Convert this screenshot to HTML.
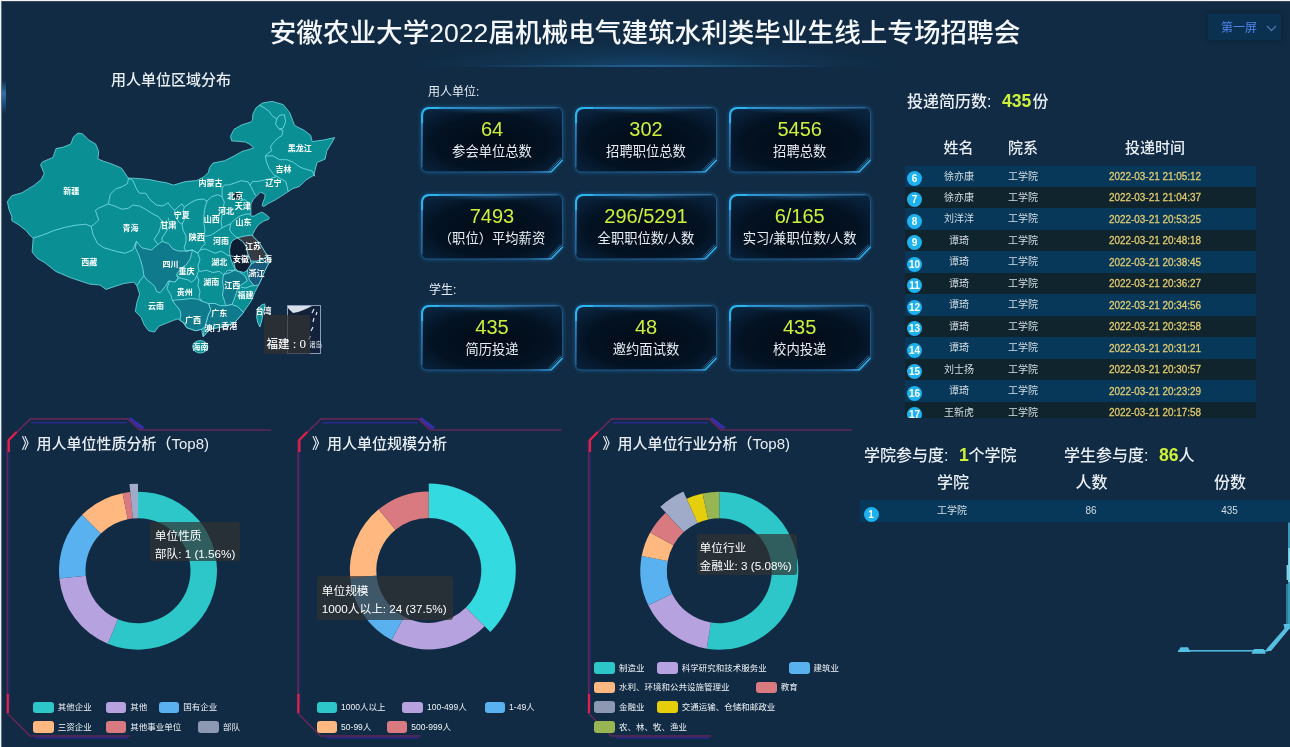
<!DOCTYPE html><html lang="zh-CN"><head><meta charset="utf-8"><title>安徽农业大学2022届机械电气建筑水利类毕业生线上专场招聘会</title><style>
*{margin:0;padding:0;box-sizing:border-box;}
html,body{width:1290px;height:747px;overflow:hidden;background:#102b43;}
body{position:relative;font-family:"Liberation Sans", "Noto Sans CJK SC", sans-serif;color:#fff;}
.a{position:absolute;white-space:nowrap;}
.title{left:0;width:1290px;top:14.5px;text-align:center;font-size:26.6px;font-weight:500;color:#f4f8fc;line-height:36px;letter-spacing:0px;}
.glow{left:400px;top:40px;width:500px;height:27px;background:radial-gradient(ellipse 50% 100% at 50% 100%, rgba(20,90,140,0.55) 0%, rgba(20,80,130,0.25) 50%, rgba(16,43,67,0) 100%);}
.gline{left:440px;top:65px;width:420px;height:1.5px;background:radial-gradient(ellipse 50% 50% at 50% 50%, rgba(90,170,220,0.65) 0%, rgba(60,140,200,0.25) 60%, rgba(16,43,67,0) 100%);}
.sel{left:1208.3px;top:13.8px;width:73.2px;height:26.5px;background:#0b3151;box-shadow:0 0 6px rgba(0,0,0,0.25);}
.sel span{position:absolute;left:12.8px;top:6.6px;font-size:12px;color:#4f84ec;line-height:16px;}
.lbl{font-size:12px;color:#e6edf5;line-height:14px;}
.card{position:absolute;width:142px;height:65.5px;filter:drop-shadow(0 0 2px rgba(40,140,220,0.45));}
.card .n{position:absolute;left:0;width:100%;text-align:center;top:9.5px;font-size:20px;line-height:24px;color:#cdf03c;}
.card .t{position:absolute;left:0;width:100%;text-align:center;top:36.3px;font-size:13.3px;line-height:18px;color:#e8eef4;}
.h16{font-size:16px;line-height:20px;color:#e8eef4;font-weight:500;}
.y{color:#cdf03c;font-weight:bold;}
.th{font-size:15px;line-height:18px;color:#e8eef4;font-weight:500;}
.row{position:absolute;height:21.5px;}
.odd{background:#07385a;}
.even{background:#0f242c;}
.badge{position:absolute;width:15px;height:15px;border-radius:50%;background:#1db1f0;color:#fff;font-size:10px;font-weight:bold;line-height:15px;text-align:center;}
.cell{position:absolute;font-size:10px;line-height:12px;color:#d4dce4;text-align:center;}
.time{color:#e2ca70;font-size:11px;line-height:12px;transform:scaleX(0.9);margin-top:-0.8px;-webkit-text-stroke:0.3px #e2ca70;}
.ptitle{font-size:15px;line-height:18px;color:#e8eef4;font-weight:500;}
.tip{position:absolute;background:rgba(50,50,50,0.7);color:#fff;font-size:11.7px;line-height:17.5px;border-radius:3px;white-space:nowrap;}
.lg{position:absolute;font-size:8.5px;line-height:12px;color:#f0f4f8;white-space:nowrap;}
.sw{position:absolute;width:20.5px;height:11.5px;border-radius:3px;}
</style></head><body><div class="a" style="left:0;top:0;width:1290px;height:1px;background:#f4f6f8;"></div><div class="a" style="left:0;top:1px;width:1290px;height:1px;background:#4a5260;opacity:0.7;"></div><div class="a" style="left:0;top:0;width:1px;height:747px;background:#eef2f6;"></div><div class="a" style="left:1px;top:0;width:1px;height:747px;background:rgba(190,205,220,0.45);"></div><div class="a glow"></div><div class="a gline"></div><div class="a" style="left:1.5px;top:80px;width:4px;height:34px;background:linear-gradient(180deg,rgba(60,120,190,0) 0%,rgba(70,140,210,0.7) 40%,rgba(40,100,170,0.4) 80%,rgba(40,100,170,0) 100%);"></div><div class="a title">安徽农业大学2022届机械电气建筑水利类毕业生线上专场招聘会</div><div class="a sel"><span>第一屏</span><svg style="position:absolute;left:58px;top:10.8px" width="11" height="7" viewBox="0 0 11 7"><polyline points="1,1 5.5,5.5 10,1" fill="none" stroke="#4a74a6" stroke-width="1.3"/></svg></div><div class="a" style="left:111px;top:71px;font-size:15px;line-height:18px;color:#e8eef4;font-weight:500;">用人单位区域分布</div><div class="a lbl" style="left:428px;top:85px;">用人单位:</div><div class="card" style="left:421px;top:107px"><svg width="142" height="65.5" viewBox="0 0 142 65.5" style="position:absolute;left:0;top:0"><defs><radialGradient id="cg1" cx="50%" cy="55%" r="75%"><stop offset="0" stop-color="#020b16"/><stop offset="0.55" stop-color="#031222"/><stop offset="1" stop-color="#0c2a48"/></radialGradient><radialGradient id="tg1" cx="50%" cy="0%" r="60%" fx="50%" fy="0%" gradientTransform="translate(0,0) scale(1,0.5)"><stop offset="0" stop-color="#3f8fc4" stop-opacity="0.55"/><stop offset="0.6" stop-color="#1d5a8a" stop-opacity="0.18"/><stop offset="1" stop-color="#000" stop-opacity="0"/></radialGradient><linearGradient id="ag1" gradientUnits="userSpaceOnUse" x1="0" y1="0" x2="142" y2="0"><stop offset="0" stop-color="#2ba8ec"/><stop offset="0.3" stop-color="#3296d6" stop-opacity="0.85"/><stop offset="0.8" stop-color="#3a7fb4" stop-opacity="0.5"/><stop offset="1" stop-color="#3a7fb4" stop-opacity="0.3"/></linearGradient><linearGradient id="lg21" gradientUnits="userSpaceOnUse" x1="0" y1="62" x2="0" y2="0"><stop offset="0" stop-color="#2a6fa8" stop-opacity="0.5"/><stop offset="0.6" stop-color="#2f8cd0" stop-opacity="0.8"/><stop offset="1" stop-color="#2cb0ee"/></linearGradient><linearGradient id="bg21" gradientUnits="userSpaceOnUse" x1="40" y1="0" x2="130" y2="0"><stop offset="0" stop-color="#1b4f7c" stop-opacity="0.3"/><stop offset="0.75" stop-color="#2a70a8" stop-opacity="0.6"/><stop offset="1" stop-color="#3aa8ec"/></linearGradient></defs><path d="M8,0.5 H135.5 Q141.5,0.5 141.5,6.5 V53.0 L130.0,65.0 H6.5 Q0.5,65.0 0.5,59.0 V8 Q0.5,0.5 8,0.5 Z" fill="url(#cg1)" stroke="#1d5684" stroke-width="1"/><path d="M1.5,8 Q1.5,1.5 8,1.5 H134.5 Q140.5,1.5 140.5,7 V24 H1.5 Z" fill="url(#tg1)"/><path d="M1,60 V9" fill="none" stroke="url(#lg21)" stroke-width="1.8"/><path d="M9,1 H136.5" fill="none" stroke="url(#ag1)" stroke-width="1.8"/><path d="M1,16 V9 Q1,1 9,1 H18" fill="none" stroke="#2cb4ee" stroke-width="2.2"/><path d="M40,64.8 H130.0" fill="none" stroke="url(#bg21)" stroke-width="1.2"/><path d="M141.5,53.0 L130.0,65.0" fill="none" stroke="#34b8f0" stroke-width="1.4"/><path d="M140.5,51.3 L128.2,64.3" fill="none" stroke="#2fa8e6" stroke-width="0.9" opacity="0.8"/><path d="M139.5,50.0 L126.8,63.5" fill="none" stroke="#2a98d8" stroke-width="0.8" opacity="0.5"/></svg><div class="n">64</div><div class="t">参会单位总数</div></div><div class="card" style="left:575px;top:107px"><svg width="142" height="65.5" viewBox="0 0 142 65.5" style="position:absolute;left:0;top:0"><defs><radialGradient id="cg2" cx="50%" cy="55%" r="75%"><stop offset="0" stop-color="#020b16"/><stop offset="0.55" stop-color="#031222"/><stop offset="1" stop-color="#0c2a48"/></radialGradient><radialGradient id="tg2" cx="50%" cy="0%" r="60%" fx="50%" fy="0%" gradientTransform="translate(0,0) scale(1,0.5)"><stop offset="0" stop-color="#3f8fc4" stop-opacity="0.55"/><stop offset="0.6" stop-color="#1d5a8a" stop-opacity="0.18"/><stop offset="1" stop-color="#000" stop-opacity="0"/></radialGradient><linearGradient id="ag2" gradientUnits="userSpaceOnUse" x1="0" y1="0" x2="142" y2="0"><stop offset="0" stop-color="#2ba8ec"/><stop offset="0.3" stop-color="#3296d6" stop-opacity="0.85"/><stop offset="0.8" stop-color="#3a7fb4" stop-opacity="0.5"/><stop offset="1" stop-color="#3a7fb4" stop-opacity="0.3"/></linearGradient><linearGradient id="lg22" gradientUnits="userSpaceOnUse" x1="0" y1="62" x2="0" y2="0"><stop offset="0" stop-color="#2a6fa8" stop-opacity="0.5"/><stop offset="0.6" stop-color="#2f8cd0" stop-opacity="0.8"/><stop offset="1" stop-color="#2cb0ee"/></linearGradient><linearGradient id="bg22" gradientUnits="userSpaceOnUse" x1="40" y1="0" x2="130" y2="0"><stop offset="0" stop-color="#1b4f7c" stop-opacity="0.3"/><stop offset="0.75" stop-color="#2a70a8" stop-opacity="0.6"/><stop offset="1" stop-color="#3aa8ec"/></linearGradient></defs><path d="M8,0.5 H135.5 Q141.5,0.5 141.5,6.5 V53.0 L130.0,65.0 H6.5 Q0.5,65.0 0.5,59.0 V8 Q0.5,0.5 8,0.5 Z" fill="url(#cg2)" stroke="#1d5684" stroke-width="1"/><path d="M1.5,8 Q1.5,1.5 8,1.5 H134.5 Q140.5,1.5 140.5,7 V24 H1.5 Z" fill="url(#tg2)"/><path d="M1,60 V9" fill="none" stroke="url(#lg22)" stroke-width="1.8"/><path d="M9,1 H136.5" fill="none" stroke="url(#ag2)" stroke-width="1.8"/><path d="M1,16 V9 Q1,1 9,1 H18" fill="none" stroke="#2cb4ee" stroke-width="2.2"/><path d="M40,64.8 H130.0" fill="none" stroke="url(#bg22)" stroke-width="1.2"/><path d="M141.5,53.0 L130.0,65.0" fill="none" stroke="#34b8f0" stroke-width="1.4"/><path d="M140.5,51.3 L128.2,64.3" fill="none" stroke="#2fa8e6" stroke-width="0.9" opacity="0.8"/><path d="M139.5,50.0 L126.8,63.5" fill="none" stroke="#2a98d8" stroke-width="0.8" opacity="0.5"/></svg><div class="n">302</div><div class="t">招聘职位总数</div></div><div class="card" style="left:728.7px;top:107px"><svg width="142" height="65.5" viewBox="0 0 142 65.5" style="position:absolute;left:0;top:0"><defs><radialGradient id="cg3" cx="50%" cy="55%" r="75%"><stop offset="0" stop-color="#020b16"/><stop offset="0.55" stop-color="#031222"/><stop offset="1" stop-color="#0c2a48"/></radialGradient><radialGradient id="tg3" cx="50%" cy="0%" r="60%" fx="50%" fy="0%" gradientTransform="translate(0,0) scale(1,0.5)"><stop offset="0" stop-color="#3f8fc4" stop-opacity="0.55"/><stop offset="0.6" stop-color="#1d5a8a" stop-opacity="0.18"/><stop offset="1" stop-color="#000" stop-opacity="0"/></radialGradient><linearGradient id="ag3" gradientUnits="userSpaceOnUse" x1="0" y1="0" x2="142" y2="0"><stop offset="0" stop-color="#2ba8ec"/><stop offset="0.3" stop-color="#3296d6" stop-opacity="0.85"/><stop offset="0.8" stop-color="#3a7fb4" stop-opacity="0.5"/><stop offset="1" stop-color="#3a7fb4" stop-opacity="0.3"/></linearGradient><linearGradient id="lg23" gradientUnits="userSpaceOnUse" x1="0" y1="62" x2="0" y2="0"><stop offset="0" stop-color="#2a6fa8" stop-opacity="0.5"/><stop offset="0.6" stop-color="#2f8cd0" stop-opacity="0.8"/><stop offset="1" stop-color="#2cb0ee"/></linearGradient><linearGradient id="bg23" gradientUnits="userSpaceOnUse" x1="40" y1="0" x2="130" y2="0"><stop offset="0" stop-color="#1b4f7c" stop-opacity="0.3"/><stop offset="0.75" stop-color="#2a70a8" stop-opacity="0.6"/><stop offset="1" stop-color="#3aa8ec"/></linearGradient></defs><path d="M8,0.5 H135.5 Q141.5,0.5 141.5,6.5 V53.0 L130.0,65.0 H6.5 Q0.5,65.0 0.5,59.0 V8 Q0.5,0.5 8,0.5 Z" fill="url(#cg3)" stroke="#1d5684" stroke-width="1"/><path d="M1.5,8 Q1.5,1.5 8,1.5 H134.5 Q140.5,1.5 140.5,7 V24 H1.5 Z" fill="url(#tg3)"/><path d="M1,60 V9" fill="none" stroke="url(#lg23)" stroke-width="1.8"/><path d="M9,1 H136.5" fill="none" stroke="url(#ag3)" stroke-width="1.8"/><path d="M1,16 V9 Q1,1 9,1 H18" fill="none" stroke="#2cb4ee" stroke-width="2.2"/><path d="M40,64.8 H130.0" fill="none" stroke="url(#bg23)" stroke-width="1.2"/><path d="M141.5,53.0 L130.0,65.0" fill="none" stroke="#34b8f0" stroke-width="1.4"/><path d="M140.5,51.3 L128.2,64.3" fill="none" stroke="#2fa8e6" stroke-width="0.9" opacity="0.8"/><path d="M139.5,50.0 L126.8,63.5" fill="none" stroke="#2a98d8" stroke-width="0.8" opacity="0.5"/></svg><div class="n">5456</div><div class="t">招聘总数</div></div><div class="card" style="left:421px;top:194px"><svg width="142" height="65.5" viewBox="0 0 142 65.5" style="position:absolute;left:0;top:0"><defs><radialGradient id="cg4" cx="50%" cy="55%" r="75%"><stop offset="0" stop-color="#020b16"/><stop offset="0.55" stop-color="#031222"/><stop offset="1" stop-color="#0c2a48"/></radialGradient><radialGradient id="tg4" cx="50%" cy="0%" r="60%" fx="50%" fy="0%" gradientTransform="translate(0,0) scale(1,0.5)"><stop offset="0" stop-color="#3f8fc4" stop-opacity="0.55"/><stop offset="0.6" stop-color="#1d5a8a" stop-opacity="0.18"/><stop offset="1" stop-color="#000" stop-opacity="0"/></radialGradient><linearGradient id="ag4" gradientUnits="userSpaceOnUse" x1="0" y1="0" x2="142" y2="0"><stop offset="0" stop-color="#2ba8ec"/><stop offset="0.3" stop-color="#3296d6" stop-opacity="0.85"/><stop offset="0.8" stop-color="#3a7fb4" stop-opacity="0.5"/><stop offset="1" stop-color="#3a7fb4" stop-opacity="0.3"/></linearGradient><linearGradient id="lg24" gradientUnits="userSpaceOnUse" x1="0" y1="62" x2="0" y2="0"><stop offset="0" stop-color="#2a6fa8" stop-opacity="0.5"/><stop offset="0.6" stop-color="#2f8cd0" stop-opacity="0.8"/><stop offset="1" stop-color="#2cb0ee"/></linearGradient><linearGradient id="bg24" gradientUnits="userSpaceOnUse" x1="40" y1="0" x2="130" y2="0"><stop offset="0" stop-color="#1b4f7c" stop-opacity="0.3"/><stop offset="0.75" stop-color="#2a70a8" stop-opacity="0.6"/><stop offset="1" stop-color="#3aa8ec"/></linearGradient></defs><path d="M8,0.5 H135.5 Q141.5,0.5 141.5,6.5 V53.0 L130.0,65.0 H6.5 Q0.5,65.0 0.5,59.0 V8 Q0.5,0.5 8,0.5 Z" fill="url(#cg4)" stroke="#1d5684" stroke-width="1"/><path d="M1.5,8 Q1.5,1.5 8,1.5 H134.5 Q140.5,1.5 140.5,7 V24 H1.5 Z" fill="url(#tg4)"/><path d="M1,60 V9" fill="none" stroke="url(#lg24)" stroke-width="1.8"/><path d="M9,1 H136.5" fill="none" stroke="url(#ag4)" stroke-width="1.8"/><path d="M1,16 V9 Q1,1 9,1 H18" fill="none" stroke="#2cb4ee" stroke-width="2.2"/><path d="M40,64.8 H130.0" fill="none" stroke="url(#bg24)" stroke-width="1.2"/><path d="M141.5,53.0 L130.0,65.0" fill="none" stroke="#34b8f0" stroke-width="1.4"/><path d="M140.5,51.3 L128.2,64.3" fill="none" stroke="#2fa8e6" stroke-width="0.9" opacity="0.8"/><path d="M139.5,50.0 L126.8,63.5" fill="none" stroke="#2a98d8" stroke-width="0.8" opacity="0.5"/></svg><div class="n">7493</div><div class="t">（职位）平均薪资</div></div><div class="card" style="left:575px;top:194px"><svg width="142" height="65.5" viewBox="0 0 142 65.5" style="position:absolute;left:0;top:0"><defs><radialGradient id="cg5" cx="50%" cy="55%" r="75%"><stop offset="0" stop-color="#020b16"/><stop offset="0.55" stop-color="#031222"/><stop offset="1" stop-color="#0c2a48"/></radialGradient><radialGradient id="tg5" cx="50%" cy="0%" r="60%" fx="50%" fy="0%" gradientTransform="translate(0,0) scale(1,0.5)"><stop offset="0" stop-color="#3f8fc4" stop-opacity="0.55"/><stop offset="0.6" stop-color="#1d5a8a" stop-opacity="0.18"/><stop offset="1" stop-color="#000" stop-opacity="0"/></radialGradient><linearGradient id="ag5" gradientUnits="userSpaceOnUse" x1="0" y1="0" x2="142" y2="0"><stop offset="0" stop-color="#2ba8ec"/><stop offset="0.3" stop-color="#3296d6" stop-opacity="0.85"/><stop offset="0.8" stop-color="#3a7fb4" stop-opacity="0.5"/><stop offset="1" stop-color="#3a7fb4" stop-opacity="0.3"/></linearGradient><linearGradient id="lg25" gradientUnits="userSpaceOnUse" x1="0" y1="62" x2="0" y2="0"><stop offset="0" stop-color="#2a6fa8" stop-opacity="0.5"/><stop offset="0.6" stop-color="#2f8cd0" stop-opacity="0.8"/><stop offset="1" stop-color="#2cb0ee"/></linearGradient><linearGradient id="bg25" gradientUnits="userSpaceOnUse" x1="40" y1="0" x2="130" y2="0"><stop offset="0" stop-color="#1b4f7c" stop-opacity="0.3"/><stop offset="0.75" stop-color="#2a70a8" stop-opacity="0.6"/><stop offset="1" stop-color="#3aa8ec"/></linearGradient></defs><path d="M8,0.5 H135.5 Q141.5,0.5 141.5,6.5 V53.0 L130.0,65.0 H6.5 Q0.5,65.0 0.5,59.0 V8 Q0.5,0.5 8,0.5 Z" fill="url(#cg5)" stroke="#1d5684" stroke-width="1"/><path d="M1.5,8 Q1.5,1.5 8,1.5 H134.5 Q140.5,1.5 140.5,7 V24 H1.5 Z" fill="url(#tg5)"/><path d="M1,60 V9" fill="none" stroke="url(#lg25)" stroke-width="1.8"/><path d="M9,1 H136.5" fill="none" stroke="url(#ag5)" stroke-width="1.8"/><path d="M1,16 V9 Q1,1 9,1 H18" fill="none" stroke="#2cb4ee" stroke-width="2.2"/><path d="M40,64.8 H130.0" fill="none" stroke="url(#bg25)" stroke-width="1.2"/><path d="M141.5,53.0 L130.0,65.0" fill="none" stroke="#34b8f0" stroke-width="1.4"/><path d="M140.5,51.3 L128.2,64.3" fill="none" stroke="#2fa8e6" stroke-width="0.9" opacity="0.8"/><path d="M139.5,50.0 L126.8,63.5" fill="none" stroke="#2a98d8" stroke-width="0.8" opacity="0.5"/></svg><div class="n">296/5291</div><div class="t">全职职位数/人数</div></div><div class="card" style="left:728.7px;top:194px"><svg width="142" height="65.5" viewBox="0 0 142 65.5" style="position:absolute;left:0;top:0"><defs><radialGradient id="cg6" cx="50%" cy="55%" r="75%"><stop offset="0" stop-color="#020b16"/><stop offset="0.55" stop-color="#031222"/><stop offset="1" stop-color="#0c2a48"/></radialGradient><radialGradient id="tg6" cx="50%" cy="0%" r="60%" fx="50%" fy="0%" gradientTransform="translate(0,0) scale(1,0.5)"><stop offset="0" stop-color="#3f8fc4" stop-opacity="0.55"/><stop offset="0.6" stop-color="#1d5a8a" stop-opacity="0.18"/><stop offset="1" stop-color="#000" stop-opacity="0"/></radialGradient><linearGradient id="ag6" gradientUnits="userSpaceOnUse" x1="0" y1="0" x2="142" y2="0"><stop offset="0" stop-color="#2ba8ec"/><stop offset="0.3" stop-color="#3296d6" stop-opacity="0.85"/><stop offset="0.8" stop-color="#3a7fb4" stop-opacity="0.5"/><stop offset="1" stop-color="#3a7fb4" stop-opacity="0.3"/></linearGradient><linearGradient id="lg26" gradientUnits="userSpaceOnUse" x1="0" y1="62" x2="0" y2="0"><stop offset="0" stop-color="#2a6fa8" stop-opacity="0.5"/><stop offset="0.6" stop-color="#2f8cd0" stop-opacity="0.8"/><stop offset="1" stop-color="#2cb0ee"/></linearGradient><linearGradient id="bg26" gradientUnits="userSpaceOnUse" x1="40" y1="0" x2="130" y2="0"><stop offset="0" stop-color="#1b4f7c" stop-opacity="0.3"/><stop offset="0.75" stop-color="#2a70a8" stop-opacity="0.6"/><stop offset="1" stop-color="#3aa8ec"/></linearGradient></defs><path d="M8,0.5 H135.5 Q141.5,0.5 141.5,6.5 V53.0 L130.0,65.0 H6.5 Q0.5,65.0 0.5,59.0 V8 Q0.5,0.5 8,0.5 Z" fill="url(#cg6)" stroke="#1d5684" stroke-width="1"/><path d="M1.5,8 Q1.5,1.5 8,1.5 H134.5 Q140.5,1.5 140.5,7 V24 H1.5 Z" fill="url(#tg6)"/><path d="M1,60 V9" fill="none" stroke="url(#lg26)" stroke-width="1.8"/><path d="M9,1 H136.5" fill="none" stroke="url(#ag6)" stroke-width="1.8"/><path d="M1,16 V9 Q1,1 9,1 H18" fill="none" stroke="#2cb4ee" stroke-width="2.2"/><path d="M40,64.8 H130.0" fill="none" stroke="url(#bg26)" stroke-width="1.2"/><path d="M141.5,53.0 L130.0,65.0" fill="none" stroke="#34b8f0" stroke-width="1.4"/><path d="M140.5,51.3 L128.2,64.3" fill="none" stroke="#2fa8e6" stroke-width="0.9" opacity="0.8"/><path d="M139.5,50.0 L126.8,63.5" fill="none" stroke="#2a98d8" stroke-width="0.8" opacity="0.5"/></svg><div class="n">6/165</div><div class="t">实习/兼职位数/人数</div></div><div class="a lbl" style="left:429px;top:283px;">学生:</div><div class="card" style="left:421px;top:305px"><svg width="142" height="65.5" viewBox="0 0 142 65.5" style="position:absolute;left:0;top:0"><defs><radialGradient id="cg7" cx="50%" cy="55%" r="75%"><stop offset="0" stop-color="#020b16"/><stop offset="0.55" stop-color="#031222"/><stop offset="1" stop-color="#0c2a48"/></radialGradient><radialGradient id="tg7" cx="50%" cy="0%" r="60%" fx="50%" fy="0%" gradientTransform="translate(0,0) scale(1,0.5)"><stop offset="0" stop-color="#3f8fc4" stop-opacity="0.55"/><stop offset="0.6" stop-color="#1d5a8a" stop-opacity="0.18"/><stop offset="1" stop-color="#000" stop-opacity="0"/></radialGradient><linearGradient id="ag7" gradientUnits="userSpaceOnUse" x1="0" y1="0" x2="142" y2="0"><stop offset="0" stop-color="#2ba8ec"/><stop offset="0.3" stop-color="#3296d6" stop-opacity="0.85"/><stop offset="0.8" stop-color="#3a7fb4" stop-opacity="0.5"/><stop offset="1" stop-color="#3a7fb4" stop-opacity="0.3"/></linearGradient><linearGradient id="lg27" gradientUnits="userSpaceOnUse" x1="0" y1="62" x2="0" y2="0"><stop offset="0" stop-color="#2a6fa8" stop-opacity="0.5"/><stop offset="0.6" stop-color="#2f8cd0" stop-opacity="0.8"/><stop offset="1" stop-color="#2cb0ee"/></linearGradient><linearGradient id="bg27" gradientUnits="userSpaceOnUse" x1="40" y1="0" x2="130" y2="0"><stop offset="0" stop-color="#1b4f7c" stop-opacity="0.3"/><stop offset="0.75" stop-color="#2a70a8" stop-opacity="0.6"/><stop offset="1" stop-color="#3aa8ec"/></linearGradient></defs><path d="M8,0.5 H135.5 Q141.5,0.5 141.5,6.5 V53.0 L130.0,65.0 H6.5 Q0.5,65.0 0.5,59.0 V8 Q0.5,0.5 8,0.5 Z" fill="url(#cg7)" stroke="#1d5684" stroke-width="1"/><path d="M1.5,8 Q1.5,1.5 8,1.5 H134.5 Q140.5,1.5 140.5,7 V24 H1.5 Z" fill="url(#tg7)"/><path d="M1,60 V9" fill="none" stroke="url(#lg27)" stroke-width="1.8"/><path d="M9,1 H136.5" fill="none" stroke="url(#ag7)" stroke-width="1.8"/><path d="M1,16 V9 Q1,1 9,1 H18" fill="none" stroke="#2cb4ee" stroke-width="2.2"/><path d="M40,64.8 H130.0" fill="none" stroke="url(#bg27)" stroke-width="1.2"/><path d="M141.5,53.0 L130.0,65.0" fill="none" stroke="#34b8f0" stroke-width="1.4"/><path d="M140.5,51.3 L128.2,64.3" fill="none" stroke="#2fa8e6" stroke-width="0.9" opacity="0.8"/><path d="M139.5,50.0 L126.8,63.5" fill="none" stroke="#2a98d8" stroke-width="0.8" opacity="0.5"/></svg><div class="n">435</div><div class="t">简历投递</div></div><div class="card" style="left:575px;top:305px"><svg width="142" height="65.5" viewBox="0 0 142 65.5" style="position:absolute;left:0;top:0"><defs><radialGradient id="cg8" cx="50%" cy="55%" r="75%"><stop offset="0" stop-color="#020b16"/><stop offset="0.55" stop-color="#031222"/><stop offset="1" stop-color="#0c2a48"/></radialGradient><radialGradient id="tg8" cx="50%" cy="0%" r="60%" fx="50%" fy="0%" gradientTransform="translate(0,0) scale(1,0.5)"><stop offset="0" stop-color="#3f8fc4" stop-opacity="0.55"/><stop offset="0.6" stop-color="#1d5a8a" stop-opacity="0.18"/><stop offset="1" stop-color="#000" stop-opacity="0"/></radialGradient><linearGradient id="ag8" gradientUnits="userSpaceOnUse" x1="0" y1="0" x2="142" y2="0"><stop offset="0" stop-color="#2ba8ec"/><stop offset="0.3" stop-color="#3296d6" stop-opacity="0.85"/><stop offset="0.8" stop-color="#3a7fb4" stop-opacity="0.5"/><stop offset="1" stop-color="#3a7fb4" stop-opacity="0.3"/></linearGradient><linearGradient id="lg28" gradientUnits="userSpaceOnUse" x1="0" y1="62" x2="0" y2="0"><stop offset="0" stop-color="#2a6fa8" stop-opacity="0.5"/><stop offset="0.6" stop-color="#2f8cd0" stop-opacity="0.8"/><stop offset="1" stop-color="#2cb0ee"/></linearGradient><linearGradient id="bg28" gradientUnits="userSpaceOnUse" x1="40" y1="0" x2="130" y2="0"><stop offset="0" stop-color="#1b4f7c" stop-opacity="0.3"/><stop offset="0.75" stop-color="#2a70a8" stop-opacity="0.6"/><stop offset="1" stop-color="#3aa8ec"/></linearGradient></defs><path d="M8,0.5 H135.5 Q141.5,0.5 141.5,6.5 V53.0 L130.0,65.0 H6.5 Q0.5,65.0 0.5,59.0 V8 Q0.5,0.5 8,0.5 Z" fill="url(#cg8)" stroke="#1d5684" stroke-width="1"/><path d="M1.5,8 Q1.5,1.5 8,1.5 H134.5 Q140.5,1.5 140.5,7 V24 H1.5 Z" fill="url(#tg8)"/><path d="M1,60 V9" fill="none" stroke="url(#lg28)" stroke-width="1.8"/><path d="M9,1 H136.5" fill="none" stroke="url(#ag8)" stroke-width="1.8"/><path d="M1,16 V9 Q1,1 9,1 H18" fill="none" stroke="#2cb4ee" stroke-width="2.2"/><path d="M40,64.8 H130.0" fill="none" stroke="url(#bg28)" stroke-width="1.2"/><path d="M141.5,53.0 L130.0,65.0" fill="none" stroke="#34b8f0" stroke-width="1.4"/><path d="M140.5,51.3 L128.2,64.3" fill="none" stroke="#2fa8e6" stroke-width="0.9" opacity="0.8"/><path d="M139.5,50.0 L126.8,63.5" fill="none" stroke="#2a98d8" stroke-width="0.8" opacity="0.5"/></svg><div class="n">48</div><div class="t">邀约面试数</div></div><div class="card" style="left:728.7px;top:305px"><svg width="142" height="65.5" viewBox="0 0 142 65.5" style="position:absolute;left:0;top:0"><defs><radialGradient id="cg9" cx="50%" cy="55%" r="75%"><stop offset="0" stop-color="#020b16"/><stop offset="0.55" stop-color="#031222"/><stop offset="1" stop-color="#0c2a48"/></radialGradient><radialGradient id="tg9" cx="50%" cy="0%" r="60%" fx="50%" fy="0%" gradientTransform="translate(0,0) scale(1,0.5)"><stop offset="0" stop-color="#3f8fc4" stop-opacity="0.55"/><stop offset="0.6" stop-color="#1d5a8a" stop-opacity="0.18"/><stop offset="1" stop-color="#000" stop-opacity="0"/></radialGradient><linearGradient id="ag9" gradientUnits="userSpaceOnUse" x1="0" y1="0" x2="142" y2="0"><stop offset="0" stop-color="#2ba8ec"/><stop offset="0.3" stop-color="#3296d6" stop-opacity="0.85"/><stop offset="0.8" stop-color="#3a7fb4" stop-opacity="0.5"/><stop offset="1" stop-color="#3a7fb4" stop-opacity="0.3"/></linearGradient><linearGradient id="lg29" gradientUnits="userSpaceOnUse" x1="0" y1="62" x2="0" y2="0"><stop offset="0" stop-color="#2a6fa8" stop-opacity="0.5"/><stop offset="0.6" stop-color="#2f8cd0" stop-opacity="0.8"/><stop offset="1" stop-color="#2cb0ee"/></linearGradient><linearGradient id="bg29" gradientUnits="userSpaceOnUse" x1="40" y1="0" x2="130" y2="0"><stop offset="0" stop-color="#1b4f7c" stop-opacity="0.3"/><stop offset="0.75" stop-color="#2a70a8" stop-opacity="0.6"/><stop offset="1" stop-color="#3aa8ec"/></linearGradient></defs><path d="M8,0.5 H135.5 Q141.5,0.5 141.5,6.5 V53.0 L130.0,65.0 H6.5 Q0.5,65.0 0.5,59.0 V8 Q0.5,0.5 8,0.5 Z" fill="url(#cg9)" stroke="#1d5684" stroke-width="1"/><path d="M1.5,8 Q1.5,1.5 8,1.5 H134.5 Q140.5,1.5 140.5,7 V24 H1.5 Z" fill="url(#tg9)"/><path d="M1,60 V9" fill="none" stroke="url(#lg29)" stroke-width="1.8"/><path d="M9,1 H136.5" fill="none" stroke="url(#ag9)" stroke-width="1.8"/><path d="M1,16 V9 Q1,1 9,1 H18" fill="none" stroke="#2cb4ee" stroke-width="2.2"/><path d="M40,64.8 H130.0" fill="none" stroke="url(#bg29)" stroke-width="1.2"/><path d="M141.5,53.0 L130.0,65.0" fill="none" stroke="#34b8f0" stroke-width="1.4"/><path d="M140.5,51.3 L128.2,64.3" fill="none" stroke="#2fa8e6" stroke-width="0.9" opacity="0.8"/><path d="M139.5,50.0 L126.8,63.5" fill="none" stroke="#2a98d8" stroke-width="0.8" opacity="0.5"/></svg><div class="n">435</div><div class="t">校内投递</div></div><div class="a h16" style="left:907px;top:92px;">投递简历数:</div><div class="a y" style="left:1002px;top:91px;font-size:17.6px;line-height:20px;">435</div><div class="a h16" style="left:1032.5px;top:92px;">份</div><div class="a th" style="left:943.5px;top:138.5px;">姓名</div><div class="a th" style="left:1008px;top:138.5px;">院系</div><div class="a th" style="left:1125px;top:138.5px;">投递时间</div><div class="a" style="left:905px;top:165.5px;width:351px;height:252.7px;overflow:hidden;"><div class="row odd" style="left:0;top:0.00px;width:351px;"></div><div class="badge" style="left:2px;top:5.50px;">6</div><div class="cell" style="left:24px;width:60px;top:5.00px;">徐亦康</div><div class="cell" style="left:88px;width:60px;top:5.00px;">工学院</div><div class="cell time" style="left:190px;width:120px;top:5.00px;">2022-03-21 21:05:12</div><div class="row even" style="left:0;top:21.48px;width:351px;"></div><div class="badge" style="left:2px;top:26.98px;">7</div><div class="cell" style="left:24px;width:60px;top:26.48px;">徐亦康</div><div class="cell" style="left:88px;width:60px;top:26.48px;">工学院</div><div class="cell time" style="left:190px;width:120px;top:26.48px;">2022-03-21 21:04:37</div><div class="row odd" style="left:0;top:42.96px;width:351px;"></div><div class="badge" style="left:2px;top:48.46px;">8</div><div class="cell" style="left:24px;width:60px;top:47.96px;">刘洋洋</div><div class="cell" style="left:88px;width:60px;top:47.96px;">工学院</div><div class="cell time" style="left:190px;width:120px;top:47.96px;">2022-03-21 20:53:25</div><div class="row even" style="left:0;top:64.44px;width:351px;"></div><div class="badge" style="left:2px;top:69.94px;">9</div><div class="cell" style="left:24px;width:60px;top:69.44px;">谭琦</div><div class="cell" style="left:88px;width:60px;top:69.44px;">工学院</div><div class="cell time" style="left:190px;width:120px;top:69.44px;">2022-03-21 20:48:18</div><div class="row odd" style="left:0;top:85.92px;width:351px;"></div><div class="badge" style="left:2px;top:91.42px;">10</div><div class="cell" style="left:24px;width:60px;top:90.92px;">谭琦</div><div class="cell" style="left:88px;width:60px;top:90.92px;">工学院</div><div class="cell time" style="left:190px;width:120px;top:90.92px;">2022-03-21 20:38:45</div><div class="row even" style="left:0;top:107.40px;width:351px;"></div><div class="badge" style="left:2px;top:112.90px;">11</div><div class="cell" style="left:24px;width:60px;top:112.40px;">谭琦</div><div class="cell" style="left:88px;width:60px;top:112.40px;">工学院</div><div class="cell time" style="left:190px;width:120px;top:112.40px;">2022-03-21 20:36:27</div><div class="row odd" style="left:0;top:128.88px;width:351px;"></div><div class="badge" style="left:2px;top:134.38px;">12</div><div class="cell" style="left:24px;width:60px;top:133.88px;">谭琦</div><div class="cell" style="left:88px;width:60px;top:133.88px;">工学院</div><div class="cell time" style="left:190px;width:120px;top:133.88px;">2022-03-21 20:34:56</div><div class="row even" style="left:0;top:150.36px;width:351px;"></div><div class="badge" style="left:2px;top:155.86px;">13</div><div class="cell" style="left:24px;width:60px;top:155.36px;">谭琦</div><div class="cell" style="left:88px;width:60px;top:155.36px;">工学院</div><div class="cell time" style="left:190px;width:120px;top:155.36px;">2022-03-21 20:32:58</div><div class="row odd" style="left:0;top:171.84px;width:351px;"></div><div class="badge" style="left:2px;top:177.34px;">14</div><div class="cell" style="left:24px;width:60px;top:176.84px;">谭琦</div><div class="cell" style="left:88px;width:60px;top:176.84px;">工学院</div><div class="cell time" style="left:190px;width:120px;top:176.84px;">2022-03-21 20:31:21</div><div class="row even" style="left:0;top:193.32px;width:351px;"></div><div class="badge" style="left:2px;top:198.82px;">15</div><div class="cell" style="left:24px;width:60px;top:198.32px;">刘士扬</div><div class="cell" style="left:88px;width:60px;top:198.32px;">工学院</div><div class="cell time" style="left:190px;width:120px;top:198.32px;">2022-03-21 20:30:57</div><div class="row odd" style="left:0;top:214.80px;width:351px;"></div><div class="badge" style="left:2px;top:220.30px;">16</div><div class="cell" style="left:24px;width:60px;top:219.80px;">谭琦</div><div class="cell" style="left:88px;width:60px;top:219.80px;">工学院</div><div class="cell time" style="left:190px;width:120px;top:219.80px;">2022-03-21 20:23:29</div><div class="row even" style="left:0;top:236.28px;width:351px;"></div><div class="badge" style="left:2px;top:241.78px;">17</div><div class="cell" style="left:24px;width:60px;top:241.28px;">王新虎</div><div class="cell" style="left:88px;width:60px;top:241.28px;">工学院</div><div class="cell time" style="left:190px;width:120px;top:241.28px;">2022-03-21 20:17:58</div></div><div class="a h16" style="left:864px;top:446px;">学院参与度:</div><div class="a y" style="left:959px;top:445px;font-size:17.6px;line-height:20px;">1</div><div class="a h16" style="left:968.5px;top:446px;">个学院</div><div class="a h16" style="left:1064px;top:446px;">学生参与度:</div><div class="a y" style="left:1159px;top:445px;font-size:17.6px;line-height:20px;">86</div><div class="a h16" style="left:1178.5px;top:446px;">人</div><div class="a th" style="left:937px;top:474px;font-size:16px;">学院</div><div class="a th" style="left:1075.5px;top:474px;font-size:16px;">人数</div><div class="a th" style="left:1214px;top:474px;font-size:16px;">份数</div><div class="a odd" style="left:860px;top:500px;width:430px;height:21.5px;"></div><div class="badge" style="left:863.5px;top:506.5px;">1</div><div class="cell" style="left:922px;width:60px;top:505px;">工学院</div><div class="cell" style="left:1061px;width:60px;top:505px;">86</div><div class="cell" style="left:1199.5px;width:60px;top:505px;">435</div><svg class="a" style="left:1170px;top:515px" width="120" height="145" viewBox="1170 515 120 145"><rect x="1288" y="522.5" width="2" height="106" fill="#3a98bc"/><rect x="1288.3" y="548" width="1.7" height="34" fill="#86dcf0"/><rect x="1286.6" y="565" width="1.8" height="15" fill="#7fd6ec"/><rect x="1286" y="584" width="2" height="40" fill="#3a9cc0" opacity="0.7"/><path d="M1283.5,624 L1290,624 L1290,628 L1271,651 L1266.5,651 L1266.5,649 L1284.5,628.5 Z" fill="#56c0e2"/><rect x="1178" y="650" width="90" height="1.6" fill="#4fb6dc"/><path d="M1178,652 L1180.5,647.3 L1188,647.3 L1190.5,652 Z" fill="#56c0e2"/><path d="M1251.5,653.8 L1254,649 L1263.5,649 L1266,653.8 Z" fill="#56c0e2"/></svg><svg class="a" style="left:0;top:0" width="1290" height="747" viewBox="0 0 1290 747"><path d="M138.00,491.70 A79,79 0 1 1 107.77,643.69 L117.91,619.20 A52.5,52.5 0 1 0 138.00,518.20 Z" fill="#2ec7c9"/><path d="M107.77,643.69 A79,79 0 0 1 59.38,578.44 L85.75,575.85 A52.5,52.5 0 0 0 117.91,619.20 Z" fill="#b6a2de"/><path d="M59.38,578.44 A79,79 0 0 1 82.14,514.84 L100.88,533.58 A52.5,52.5 0 0 0 85.75,575.85 Z" fill="#5ab1ef"/><path d="M82.14,514.84 A79,79 0 0 1 122.59,493.22 L127.76,519.21 A52.5,52.5 0 0 0 100.88,533.58 Z" fill="#ffb980"/><path d="M122.59,493.22 A79,79 0 0 1 130.26,492.08 L132.85,518.45 A52.5,52.5 0 0 0 127.76,519.21 Z" fill="#d87a80"/><path d="M129.47,484.12 A87,87 0 0 1 138.00,483.70 L138.00,518.20 A52.5,52.5 0 0 0 132.85,518.45 Z" fill="#9fabc8"/><path d="M428.80,483.40 A87,87 0 0 1 490.32,631.92 L465.92,607.52 A52.5,52.5 0 0 0 428.80,517.90 Z" fill="#33dae0"/><path d="M484.66,626.26 A79,79 0 0 1 391.56,640.07 L404.05,616.70 A52.5,52.5 0 0 0 465.92,607.52 Z" fill="#b6a2de"/><path d="M391.56,640.07 A79,79 0 0 1 350.18,578.14 L376.55,575.55 A52.5,52.5 0 0 0 404.05,616.70 Z" fill="#5ab1ef"/><path d="M350.18,578.14 A79,79 0 0 1 378.68,509.33 L395.49,529.82 A52.5,52.5 0 0 0 376.55,575.55 Z" fill="#ffb980"/><path d="M378.68,509.33 A79,79 0 0 1 428.80,491.40 L428.80,517.90 A52.5,52.5 0 0 0 395.49,529.82 Z" fill="#d87a80"/><path d="M719.30,491.70 A79,79 0 1 1 706.73,648.69 L710.95,622.53 A52.5,52.5 0 1 0 719.30,518.20 Z" fill="#2ec7c9"/><path d="M706.73,648.69 A79,79 0 0 1 648.25,605.25 L672.09,593.66 A52.5,52.5 0 0 0 710.95,622.53 Z" fill="#b6a2de"/><path d="M648.25,605.25 A79,79 0 0 1 641.67,556.06 L667.71,560.97 A52.5,52.5 0 0 0 672.09,593.66 Z" fill="#5ab1ef"/><path d="M641.67,556.06 A79,79 0 0 1 650.19,532.42 L673.37,545.26 A52.5,52.5 0 0 0 667.71,560.97 Z" fill="#ffb980"/><path d="M650.19,532.42 A79,79 0 0 1 665.71,512.65 L683.69,532.12 A52.5,52.5 0 0 0 673.37,545.26 Z" fill="#d87a80"/><path d="M660.29,506.77 A87,87 0 0 1 683.35,491.47 L697.61,522.89 A52.5,52.5 0 0 0 683.69,532.12 Z" fill="#9fabc8"/><path d="M686.66,498.76 A79,79 0 0 1 702.60,493.49 L708.20,519.39 A52.5,52.5 0 0 0 697.61,522.89 Z" fill="#e5cf0d"/><path d="M702.60,493.49 A79,79 0 0 1 719.30,491.70 L719.30,518.20 A52.5,52.5 0 0 0 708.20,519.39 Z" fill="#97b552"/><g transform="translate(0.0,0)" fill="none"><polyline points="129.5,418.5 143,428.5" stroke="#3a2fb4" stroke-width="3.6" opacity="0.9"/><polyline points="130,736 30,736 7.5,713.5 7.5,441 30.5,418.8 128,418.8 139.5,430 271,430" stroke="#62275a" stroke-width="1.7"/><polyline points="127,422.7 31.5,422.7" stroke="#2b2a8c" stroke-width="1.6"/><polyline points="9.6,446 9.6,706" stroke="#2a2a86" stroke-width="1" opacity="0.6"/><polyline points="35,738 128,738" stroke="#2a2a8a" stroke-width="1.4"/><polyline points="16.5,432 8.8,440 8.8,452" stroke="#e3204c" stroke-width="2.2"/><polyline points="7.8,694 7.8,713" stroke="#e3204c" stroke-width="2.2"/></g><g transform="translate(290.6,0)" fill="none"><polyline points="129.5,418.5 143,428.5" stroke="#3a2fb4" stroke-width="3.6" opacity="0.9"/><polyline points="130,736 30,736 7.5,713.5 7.5,441 30.5,418.8 128,418.8 139.5,430 271,430" stroke="#62275a" stroke-width="1.7"/><polyline points="127,422.7 31.5,422.7" stroke="#2b2a8c" stroke-width="1.6"/><polyline points="9.6,446 9.6,706" stroke="#2a2a86" stroke-width="1" opacity="0.6"/><polyline points="35,738 128,738" stroke="#2a2a8a" stroke-width="1.4"/><polyline points="16.5,432 8.8,440 8.8,452" stroke="#e3204c" stroke-width="2.2"/><polyline points="7.8,694 7.8,713" stroke="#e3204c" stroke-width="2.2"/></g><g transform="translate(581.2,0)" fill="none"><polyline points="129.5,418.5 143,428.5" stroke="#3a2fb4" stroke-width="3.6" opacity="0.9"/><polyline points="130,736 30,736 7.5,713.5 7.5,441 30.5,418.8 128,418.8 139.5,430 271,430" stroke="#62275a" stroke-width="1.7"/><polyline points="127,422.7 31.5,422.7" stroke="#2b2a8c" stroke-width="1.6"/><polyline points="9.6,446 9.6,706" stroke="#2a2a86" stroke-width="1" opacity="0.6"/><polyline points="35,738 128,738" stroke="#2a2a8a" stroke-width="1.4"/><polyline points="16.5,432 8.8,440 8.8,452" stroke="#e3204c" stroke-width="2.2"/><polyline points="7.8,694 7.8,713" stroke="#e3204c" stroke-width="2.2"/></g></svg><div class="a ptitle" style="left:21.5px;top:434.5px;">》用人单位性质分析（Top8)</div><div class="a ptitle" style="left:312px;top:434.5px;">》用人单位规模分析</div><div class="a ptitle" style="left:602.5px;top:434.5px;">》用人单位行业分析（Top8)</div><div class="tip" style="left:150px;top:522px;width:90px;height:38.8px;padding:5.0px 0 0 4.8px;">单位性质<br>部队: 1 (1.56%)</div><div class="tip" style="left:317px;top:576px;width:136px;height:43.5px;padding:6.2px 0 0 4.8px;">单位规模<br>1000人以上: 24 (37.5%)</div><div class="tip" style="left:696.5px;top:534px;width:100.5px;height:40.5px;padding:5.0px 0 0 3.0px;">单位行业<br>金融业: 3 (5.08%)</div><div class="sw" style="left:33.1px;top:701.5px;background:#2ec7c9;"></div><div class="lg" style="left:57.7px;top:701.0px;">其他企业</div><div class="sw" style="left:105.7px;top:701.5px;background:#b6a2de;"></div><div class="lg" style="left:130.3px;top:701.0px;">其他</div><div class="sw" style="left:158.7px;top:701.5px;background:#5ab1ef;"></div><div class="lg" style="left:183.3px;top:701.0px;">国有企业</div><div class="sw" style="left:33.1px;top:721.3px;background:#ffb980;"></div><div class="lg" style="left:57.7px;top:720.8px;">三资企业</div><div class="sw" style="left:105.7px;top:721.3px;background:#d87a80;"></div><div class="lg" style="left:130.3px;top:720.8px;">其他事业单位</div><div class="sw" style="left:198.4px;top:721.3px;background:#8d98b3;"></div><div class="lg" style="left:223.0px;top:720.8px;">部队</div><div class="sw" style="left:316.5px;top:701.5px;background:#2ec7c9;"></div><div class="lg" style="left:341.1px;top:701.0px;">1000人以上</div><div class="sw" style="left:402.4px;top:701.5px;background:#b6a2de;"></div><div class="lg" style="left:427.0px;top:701.0px;">100-499人</div><div class="sw" style="left:484.5px;top:701.5px;background:#5ab1ef;"></div><div class="lg" style="left:509.1px;top:701.0px;">1-49人</div><div class="sw" style="left:316.5px;top:721.3px;background:#ffb980;"></div><div class="lg" style="left:341.1px;top:720.8px;">50-99人</div><div class="sw" style="left:386.7px;top:721.3px;background:#d87a80;"></div><div class="lg" style="left:411.3px;top:720.8px;">500-999人</div><div class="sw" style="left:594.4px;top:662px;background:#2ec7c9;"></div><div class="lg" style="left:619.0px;top:661.5px;">制造业</div><div class="sw" style="left:657.2px;top:662px;background:#b6a2de;"></div><div class="lg" style="left:681.8px;top:661.5px;">科学研究和技术服务业</div><div class="sw" style="left:789px;top:662px;background:#5ab1ef;"></div><div class="lg" style="left:813.6px;top:661.5px;">建筑业</div><div class="sw" style="left:594.4px;top:681.7px;background:#ffb980;"></div><div class="lg" style="left:619.0px;top:681.2px;">水利、环境和公共设施管理业</div><div class="sw" style="left:756.2px;top:681.7px;background:#d87a80;"></div><div class="lg" style="left:780.8px;top:681.2px;">教育</div><div class="sw" style="left:594.4px;top:701.3px;background:#8d98b3;"></div><div class="lg" style="left:619.0px;top:700.8px;">金融业</div><div class="sw" style="left:657.2px;top:701.3px;background:#e5cf0d;"></div><div class="lg" style="left:681.8px;top:700.8px;">交通运输、仓储和邮政业</div><div class="sw" style="left:594.4px;top:721.1px;background:#97b552;"></div><div class="lg" style="left:619.0px;top:720.6px;">农、林、牧、渔业</div><svg class="a" style="left:0;top:0" width="345" height="370" viewBox="0 0 345 370"><polygon points="78.0,133.1 82.5,133.8 88.4,139.7 95.7,144.1 98.7,151.5 97.9,158.9 103.1,161.1 111.7,163.9 121.5,168.2 124.7,172.6 128.0,178.0 138.8,178.5 149.7,179.6 157.3,181.2 166.5,182.8 173.5,185.1 185.1,181.6 196.7,180.5 203.7,177.0 208.4,172.3 209.5,167.7 213.0,163.0 224.7,160.7 234.0,156.0 242.1,151.4 249.0,149.5 253.7,147.9 250.0,144.5 245.6,142.1 238.0,141.3 231.6,140.9 230.5,136.3 234.0,129.3 242.1,124.7 250.2,122.3 252.6,120.0 252.8,114.3 256.0,107.8 262.4,103.0 272.1,101.4 283.3,104.6 289.7,112.7 294.6,125.5 304.2,130.3 310.6,135.2 312.2,141.6 323.5,140.0 334.7,137.6 331.5,143.2 326.7,151.2 325.1,159.2 317.0,162.5 313.8,175.3 305.8,180.1 299.4,186.5 293.0,188.5 286.2,192.9 281.4,196.1 275.0,200.1 268.6,203.3 263.7,206.5 262.1,205.7 262.9,202.5 264.5,198.5 265.3,194.5 262.1,192.9 260.5,192.0 256.5,196.1 253.3,199.3 250.9,204.1 250.9,210.5 250.9,216.1 254.1,216.1 258.1,213.7 262.1,212.1 266.9,215.3 269.4,217.8 268.6,219.4 263.7,221.0 258.1,225.0 254.9,229.8 252.5,234.6 253.0,236.6 259.4,243.0 264.3,251.0 267.5,255.9 270.7,260.7 267.5,265.5 264.3,271.9 261.0,280.0 257.8,286.4 254.6,292.8 251.4,300.8 247.0,307.0 243.0,313.0 235.4,321.8 226.6,326.2 217.8,327.7 208.9,329.2 206.0,333.6 203.0,336.5 201.6,329.2 195.7,330.7 186.8,327.7 182.4,321.8 178.0,318.9 173.6,320.3 166.2,323.3 158.9,326.2 154.5,332.1 148.6,330.7 144.2,324.8 141.2,317.4 135.3,311.5 136.8,302.7 139.7,293.9 136.8,285.8 133.9,282.1 123.6,283.6 114.7,286.5 105.9,289.4 100.0,285.0 90.0,284.2 70.7,277.8 55.7,271.4 45.0,262.8 37.5,258.5 32.1,252.0 33.2,238.2 29.5,235.0 26.5,231.0 19.1,225.1 11.8,220.7 11.8,216.3 8.8,208.9 7.4,201.6 11.8,195.7 22.1,192.7 33.9,185.4 41.2,179.5 44.2,173.6 40.5,164.8 42.7,161.8 53.0,157.4 56.0,148.6 63.3,147.1 70.7,144.1 73.6,136.8" fill="#0a8f95" stroke="#72d8e0" stroke-width="0.8" stroke-linejoin="round"/><polygon points="136.4,241.4 141.8,247.8 151.4,250.0 157.8,244.6 162.1,241.4 168.5,243.6 172.8,248.9 178.2,251.0 186.7,251.0 192.5,250.0 190.3,258.6 186.0,265.0 182.8,267.1 179.6,270.3 176.4,274.6 178.0,278.5 175.0,282.1 168.5,281.0 165.3,286.4 160.0,292.8 156.8,291.7 154.6,286.4 151.4,283.2 147.1,280.0 143.9,275.7 142.8,268.2 140.7,260.7 138.6,254.3 135.4,247.8" fill="#0f7a8c" stroke="#72d8e0" stroke-width="0.9" stroke-linejoin="round"/><polygon points="223.5,274.6 227.8,270.3 234.2,270.3 238.5,271.4 245.0,275.7 247.2,281.0 241.1,285.0 238.5,286.4 236.4,292.8 234.2,299.2 232.1,304.6 227.2,305.5 225.7,305.7 224.6,301.4 222.5,295.0 223.5,288.5 222.5,281.0" fill="#0f7a8c" stroke="#72d8e0" stroke-width="0.9" stroke-linejoin="round"/><polygon points="208.5,303.5 215.0,303.5 220.3,305.7 225.7,305.7 232.1,304.6 237.7,306.6 241.1,310.0 243.5,312.5 235.4,321.8 226.6,326.2 217.8,327.7 208.9,329.2 206.0,333.6 203.0,336.5 204.6,327.4 206.3,322.2 208.1,315.3 210.7,310.0" fill="#0f7a8c" stroke="#72d8e0" stroke-width="0.9" stroke-linejoin="round"/><polygon points="175.0,300.0 183.0,299.5 191.0,298.5 197.8,299.2 202.1,301.4 208.5,303.5 210.7,310.0 208.1,315.3 206.3,322.2 204.6,327.4 201.6,329.2 195.7,330.7 186.8,327.7 183.7,322.5 180.0,320.6 180.0,318.7 180.9,315.0 180.0,310.3 176.2,305.6 172.5,300.9" fill="#0f7a8c" stroke="#72d8e0" stroke-width="0.9" stroke-linejoin="round"/><polygon points="232.0,241.0 237.0,237.8 242.8,240.5 246.6,247.2 247.5,252.8 250.3,259.4 251.2,264.0 249.0,269.0 244.0,272.5 238.0,271.0 234.0,267.5 232.0,262.0 230.0,256.0 229.6,249.5 230.5,244.5" fill="#0e1d31" stroke="#72d8e0" stroke-width="0.9" stroke-linejoin="round"/><polygon points="237.2,237.8 245.6,235.9 252.2,235.0 253.0,236.6 259.4,243.0 264.3,251.0 267.5,255.9 266.2,257.5 262.5,259.4 256.9,261.2 251.2,261.2 250.3,259.4 247.5,252.8 246.6,247.2 242.8,241.6" fill="#363a42" stroke="#72d8e0" stroke-width="0.9" stroke-linejoin="round"/><polygon points="262.5,259.4 266.2,257.5 270.7,260.7 268.5,263.0 265.0,262.0" fill="#2e3440" stroke="#72d8e0" stroke-width="0.9" stroke-linejoin="round"/><polygon points="251.2,264.0 256.9,261.2 262.5,259.4 265.0,262.0 268.5,263.0 267.5,265.5 264.3,271.9 261.0,280.0 258.5,285.0 254.0,285.6 249.4,280.0 247.5,272.5 247.5,269.7" fill="#195a7c" stroke="#72d8e0" stroke-width="0.9" stroke-linejoin="round"/><polyline points="203.9,236.4 204.5,242.0 205.3,243.6 202.1,246.8 200.0,250.0" fill="none" stroke="#72d8e0" stroke-width="0.9" stroke-linejoin="round"/><polyline points="200.0,250.0 205.3,248.9 215.0,253.2 221.4,251.1 227.8,255.3 233.2,256.4" fill="none" stroke="#72d8e0" stroke-width="0.9" stroke-linejoin="round"/><polyline points="186.7,251.0 192.5,250.0 197.8,253.2 200.0,250.0" fill="none" stroke="#72d8e0" stroke-width="0.9" stroke-linejoin="round"/><polyline points="192.5,250.0 197.8,253.2 200.0,259.6 197.8,266.0 198.9,270.3 196.8,275.7 194.6,280.0 191.4,282.1 188.2,280.0 183.9,278.9 179.6,277.8 176.4,274.6" fill="none" stroke="#72d8e0" stroke-width="0.9" stroke-linejoin="round"/><polyline points="196.8,275.7 198.9,280.0 197.8,285.3 200.0,291.7 198.9,297.1 202.1,301.4" fill="none" stroke="#72d8e0" stroke-width="0.9" stroke-linejoin="round"/><polyline points="198.9,270.3 200.0,271.4 206.4,270.3 212.8,272.5 219.3,271.4 223.5,274.6" fill="none" stroke="#72d8e0" stroke-width="0.9" stroke-linejoin="round"/><polyline points="223.5,274.6 230.0,272.5 234.2,270.3 235.3,268.7 233.4,261.2" fill="none" stroke="#72d8e0" stroke-width="0.9" stroke-linejoin="round"/><polyline points="175.0,282.1 178.0,278.5 179.6,277.8" fill="none" stroke="#72d8e0" stroke-width="0.9" stroke-linejoin="round"/><polyline points="33.2,238.2 42.8,235.0 53.5,230.7 64.3,227.5 75.0,225.3 85.7,224.2 91.1,226.4" fill="none" stroke="#72d8e0" stroke-width="0.9" stroke-linejoin="round"/><polyline points="91.1,226.4 94.3,224.3 98.6,220.0 95.4,210.3 98.6,208.2 108.2,203.9" fill="none" stroke="#72d8e0" stroke-width="0.9" stroke-linejoin="round"/><polyline points="108.2,203.9 109.3,199.6 110.3,194.3 115.7,188.9 122.1,186.8 127.5,183.6 128.5,178.2" fill="none" stroke="#72d8e0" stroke-width="0.9" stroke-linejoin="round"/><polyline points="108.2,203.9 114.6,206.0 122.1,209.3 128.5,208.2 132.8,205.0 139.3,206.0 145.7,209.3 152.1,213.5 158.5,216.8 161.7,221.0 160.7,226.4 158.5,232.8 154.2,239.2 157.8,244.6" fill="none" stroke="#72d8e0" stroke-width="0.9" stroke-linejoin="round"/><polyline points="91.1,226.4 93.2,235.0 97.5,243.5 103.9,247.8 111.4,250.0 118.9,252.1 125.3,253.2 132.8,250.0 136.4,241.4" fill="none" stroke="#72d8e0" stroke-width="0.9" stroke-linejoin="round"/><polyline points="143.9,275.7 140.5,280.0 136.8,285.8" fill="none" stroke="#72d8e0" stroke-width="0.9" stroke-linejoin="round"/><polyline points="128.5,178.2 132.8,180.4 136.0,187.8 139.3,193.2 145.7,193.2 147.8,196.4 150.0,199.6 156.4,205.0 162.8,206.0 168.2,202.8 170.3,206.0 174.6,210.3" fill="none" stroke="#72d8e0" stroke-width="0.9" stroke-linejoin="round"/><polyline points="182.1,203.9 184.2,207.1 183.1,212.5 184.2,220.0 182.1,224.3 178.9,222.1 175.7,216.8 174.6,210.3 177.8,207.1 182.1,203.9" fill="none" stroke="#72d8e0" stroke-width="0.9" stroke-linejoin="round"/><polyline points="182.1,224.3 183.0,230.0 186.0,236.0 186.0,242.0 184.0,248.0 186.7,252.1" fill="none" stroke="#72d8e0" stroke-width="0.9" stroke-linejoin="round"/><polyline points="168.2,217.8 170.0,225.0 166.0,232.0 162.0,238.0 162.1,241.4" fill="none" stroke="#72d8e0" stroke-width="0.9" stroke-linejoin="round"/><polyline points="184.2,207.1 190.0,203.0 196.0,200.0 203.0,199.0 207.1,201.1" fill="none" stroke="#72d8e0" stroke-width="0.9" stroke-linejoin="round"/><polyline points="207.1,201.1 211.4,196.8 217.9,194.6 222.1,196.8 224.3,202.1 223.2,208.6 222.1,215.0 221.1,221.4 222.1,227.9 215.7,232.1 210.4,235.4 203.9,236.4 205.0,230.0 203.9,223.6 203.9,215.0 205.0,207.5 207.1,201.1" fill="none" stroke="#72d8e0" stroke-width="0.9" stroke-linejoin="round"/><polyline points="222.1,196.8 222.1,188.2 224.3,185.0 228.6,185.0 235.0,182.9 241.4,180.7 247.9,181.8 250.1,185.2 252.6,190.0 255.5,195.5" fill="none" stroke="#72d8e0" stroke-width="0.9" stroke-linejoin="round"/><polyline points="250.1,185.2 252.6,181.4 257.7,181.4 264.1,180.1 270.4,178.8 276.8,176.3" fill="none" stroke="#72d8e0" stroke-width="0.9" stroke-linejoin="round"/><polyline points="276.8,176.3 280.6,178.8 285.7,181.4 287.0,186.4 288.2,191.5" fill="none" stroke="#72d8e0" stroke-width="0.9" stroke-linejoin="round"/><polyline points="265.3,155.9 266.6,162.3 269.2,168.6 274.2,175.0 276.8,176.3" fill="none" stroke="#72d8e0" stroke-width="0.9" stroke-linejoin="round"/><polyline points="265.3,155.9 273.0,155.9 279.3,159.7 287.0,159.7 293.3,162.3 298.4,166.1 303.5,168.6 308.6,169.9 312.4,171.2 314.9,176.3" fill="none" stroke="#72d8e0" stroke-width="0.9" stroke-linejoin="round"/><polyline points="259.0,105.1 264.1,107.6 269.2,111.4 271.7,115.3 276.8,119.1 275.5,124.2 279.3,129.2 283.1,130.5 281.9,135.6 278.0,138.1 273.0,143.2 270.4,147.0 271.7,150.8 267.9,153.4 265.3,155.9" fill="none" stroke="#72d8e0" stroke-width="0.9" stroke-linejoin="round"/><polyline points="276.8,119.1 279.3,115.3 284.4,114.6 285.7,121.6 283.1,128.0 279.3,129.2" fill="none" stroke="#72d8e0" stroke-width="0.9" stroke-linejoin="round"/><polyline points="235.0,219.3 230.7,223.6 229.6,230.0 232.9,234.3 237.2,238.2" fill="none" stroke="#72d8e0" stroke-width="0.9" stroke-linejoin="round"/><polyline points="222.1,227.9 226.4,225.7 230.7,223.6" fill="none" stroke="#72d8e0" stroke-width="0.9" stroke-linejoin="round"/><polyline points="240.0,201.0 245.0,199.5 248.5,203.0 247.0,208.0 250.9,210.5" fill="none" stroke="#72d8e0" stroke-width="0.9" stroke-linejoin="round"/><polyline points="235.0,219.3 240.0,216.0 246.0,214.0 250.9,214.0" fill="none" stroke="#72d8e0" stroke-width="0.9" stroke-linejoin="round"/><polyline points="169.7,280.3 166.9,288.7 170.6,294.4 172.5,300.9" fill="none" stroke="#72d8e0" stroke-width="0.9" stroke-linejoin="round"/><polyline points="241.1,310.0 243.5,312.5" fill="none" stroke="#72d8e0" stroke-width="0.9" stroke-linejoin="round"/><polyline points="241.1,287.4 246.0,288.0 251.0,286.0 254.0,285.6" fill="none" stroke="#72d8e0" stroke-width="0.9" stroke-linejoin="round"/><polygon points="264.6,303.9 261.4,305.0 258.2,309.3 256.6,316.8 257.7,322.1 259.8,327.0 261.4,322.1 263.0,313.6 265.2,306.0" fill="#0a8f95" stroke="#72d8e0" stroke-width="0.9"/><ellipse cx="200.3" cy="346.8" rx="7.6" ry="6.2" fill="#0a8f95" stroke="#72d8e0" stroke-width="0.9"/><ellipse cx="236.6" cy="196" rx="3.4" ry="3.8" fill="#14202e"/><rect x="287.5" y="305.5" width="33" height="48" fill="#13223a" stroke="#8b9bb8" stroke-width="1"/><path d="M288,306 L312,306 C306,309 300,312 293,313 C291,311 289,309 288,308 Z" fill="#d8e0ec"/><line x1="314" y1="309" x2="312" y2="313" stroke="#dfe6ef" stroke-width="1.2"/><line x1="314" y1="318" x2="313" y2="322" stroke="#dfe6ef" stroke-width="1.2"/><line x1="313" y1="327" x2="311" y2="331" stroke="#dfe6ef" stroke-width="1.2"/><line x1="310" y1="336" x2="309" y2="340" stroke="#dfe6ef" stroke-width="1.2"/><line x1="317" y1="312" x2="316" y2="315" stroke="#dfe6ef" stroke-width="1.2"/></svg><div class="a" style="left:287.8px;top:143.2px;width:24.0px;text-align:center;font-size:8px;line-height:12px;color:#fff;font-weight:bold;">黑龙江</div><div class="a" style="left:275.6px;top:163.8px;width:16.0px;text-align:center;font-size:8px;line-height:12px;color:#fff;font-weight:bold;">吉林</div><div class="a" style="left:265.5px;top:178.0px;width:16.0px;text-align:center;font-size:8px;line-height:12px;color:#fff;font-weight:bold;">辽宁</div><div class="a" style="left:198.6px;top:177.7px;width:24.0px;text-align:center;font-size:8px;line-height:12px;color:#fff;font-weight:bold;">内蒙古</div><div class="a" style="left:227.3px;top:190.8px;width:16.0px;text-align:center;font-size:8px;line-height:12px;color:#fff;font-weight:bold;">北京</div><div class="a" style="left:234.8px;top:200.5px;width:16.0px;text-align:center;font-size:8px;line-height:12px;color:#fff;font-weight:bold;">天津</div><div class="a" style="left:217.9px;top:205.8px;width:16.0px;text-align:center;font-size:8px;line-height:12px;color:#fff;font-weight:bold;">河北</div><div class="a" style="left:173.7px;top:210.3px;width:16.0px;text-align:center;font-size:8px;line-height:12px;color:#fff;font-weight:bold;">宁夏</div><div class="a" style="left:203.7px;top:214.4px;width:16.0px;text-align:center;font-size:8px;line-height:12px;color:#fff;font-weight:bold;">山西</div><div class="a" style="left:235.5px;top:217.4px;width:16.0px;text-align:center;font-size:8px;line-height:12px;color:#fff;font-weight:bold;">山东</div><div class="a" style="left:160.6px;top:219.6px;width:16.0px;text-align:center;font-size:8px;line-height:12px;color:#fff;font-weight:bold;">甘肃</div><div class="a" style="left:122.4px;top:223.4px;width:16.0px;text-align:center;font-size:8px;line-height:12px;color:#fff;font-weight:bold;">青海</div><div class="a" style="left:63.2px;top:185.9px;width:16.0px;text-align:center;font-size:8px;line-height:12px;color:#fff;font-weight:bold;">新疆</div><div class="a" style="left:188.7px;top:232.4px;width:16.0px;text-align:center;font-size:8px;line-height:12px;color:#fff;font-weight:bold;">陕西</div><div class="a" style="left:213.0px;top:236.1px;width:16.0px;text-align:center;font-size:8px;line-height:12px;color:#fff;font-weight:bold;">河南</div><div class="a" style="left:244.9px;top:240.6px;width:16.0px;text-align:center;font-size:8px;line-height:12px;color:#fff;font-weight:bold;">江苏</div><div class="a" style="left:81.2px;top:257.1px;width:16.0px;text-align:center;font-size:8px;line-height:12px;color:#fff;font-weight:bold;">西藏</div><div class="a" style="left:162.5px;top:258.6px;width:16.0px;text-align:center;font-size:8px;line-height:12px;color:#fff;font-weight:bold;">四川</div><div class="a" style="left:232.9px;top:253.7px;width:16.0px;text-align:center;font-size:8px;line-height:12px;color:#fff;font-weight:bold;">安徽</div><div class="a" style="left:256.1px;top:253.7px;width:16.0px;text-align:center;font-size:8px;line-height:12px;color:#fff;font-weight:bold;">上海</div><div class="a" style="left:211.2px;top:257.1px;width:16.0px;text-align:center;font-size:8px;line-height:12px;color:#fff;font-weight:bold;">湖北</div><div class="a" style="left:178.6px;top:265.7px;width:16.0px;text-align:center;font-size:8px;line-height:12px;color:#fff;font-weight:bold;">重庆</div><div class="a" style="left:248.6px;top:268.0px;width:16.0px;text-align:center;font-size:8px;line-height:12px;color:#fff;font-weight:bold;">浙江</div><div class="a" style="left:203.3px;top:277.0px;width:16.0px;text-align:center;font-size:8px;line-height:12px;color:#fff;font-weight:bold;">湖南</div><div class="a" style="left:224.3px;top:279.6px;width:16.0px;text-align:center;font-size:8px;line-height:12px;color:#fff;font-weight:bold;">江西</div><div class="a" style="left:176.7px;top:287.4px;width:16.0px;text-align:center;font-size:8px;line-height:12px;color:#fff;font-weight:bold;">贵州</div><div class="a" style="left:237.4px;top:290.1px;width:16.0px;text-align:center;font-size:8px;line-height:12px;color:#fff;font-weight:bold;">福建</div><div class="a" style="left:147.9px;top:300.6px;width:16.0px;text-align:center;font-size:8px;line-height:12px;color:#fff;font-weight:bold;">云南</div><div class="a" style="left:255.4px;top:305.8px;width:16.0px;text-align:center;font-size:8px;line-height:12px;color:#fff;font-weight:bold;">台湾</div><div class="a" style="left:185.0px;top:314.8px;width:16.0px;text-align:center;font-size:8px;line-height:12px;color:#fff;font-weight:bold;">广西</div><div class="a" style="left:211.2px;top:307.7px;width:16.0px;text-align:center;font-size:8px;line-height:12px;color:#fff;font-weight:bold;">广东</div><div class="a" style="left:204.4px;top:322.7px;width:16.0px;text-align:center;font-size:8px;line-height:12px;color:#fff;font-weight:bold;">澳门</div><div class="a" style="left:221.3px;top:320.8px;width:16.0px;text-align:center;font-size:8px;line-height:12px;color:#fff;font-weight:bold;">香港</div><div class="a" style="left:192.5px;top:341.8px;width:16.0px;text-align:center;font-size:8px;line-height:12px;color:#fff;font-weight:bold;">海南</div><div class="a" style="left:309px;top:339.5px;font-size:6.5px;line-height:10px;color:#e8eef5;">诸岛</div><div class="a" style="left:263.5px;top:314.5px;width:46.5px;height:39.5px;background:rgba(50,50,50,0.72);"></div><div class="a" style="left:266.5px;top:337px;font-size:11.5px;line-height:14px;color:#fff;font-weight:500;">福建<span style="font-family:'Liberation Serif',serif;font-size:13px;"> : 0</span></div></body></html>
